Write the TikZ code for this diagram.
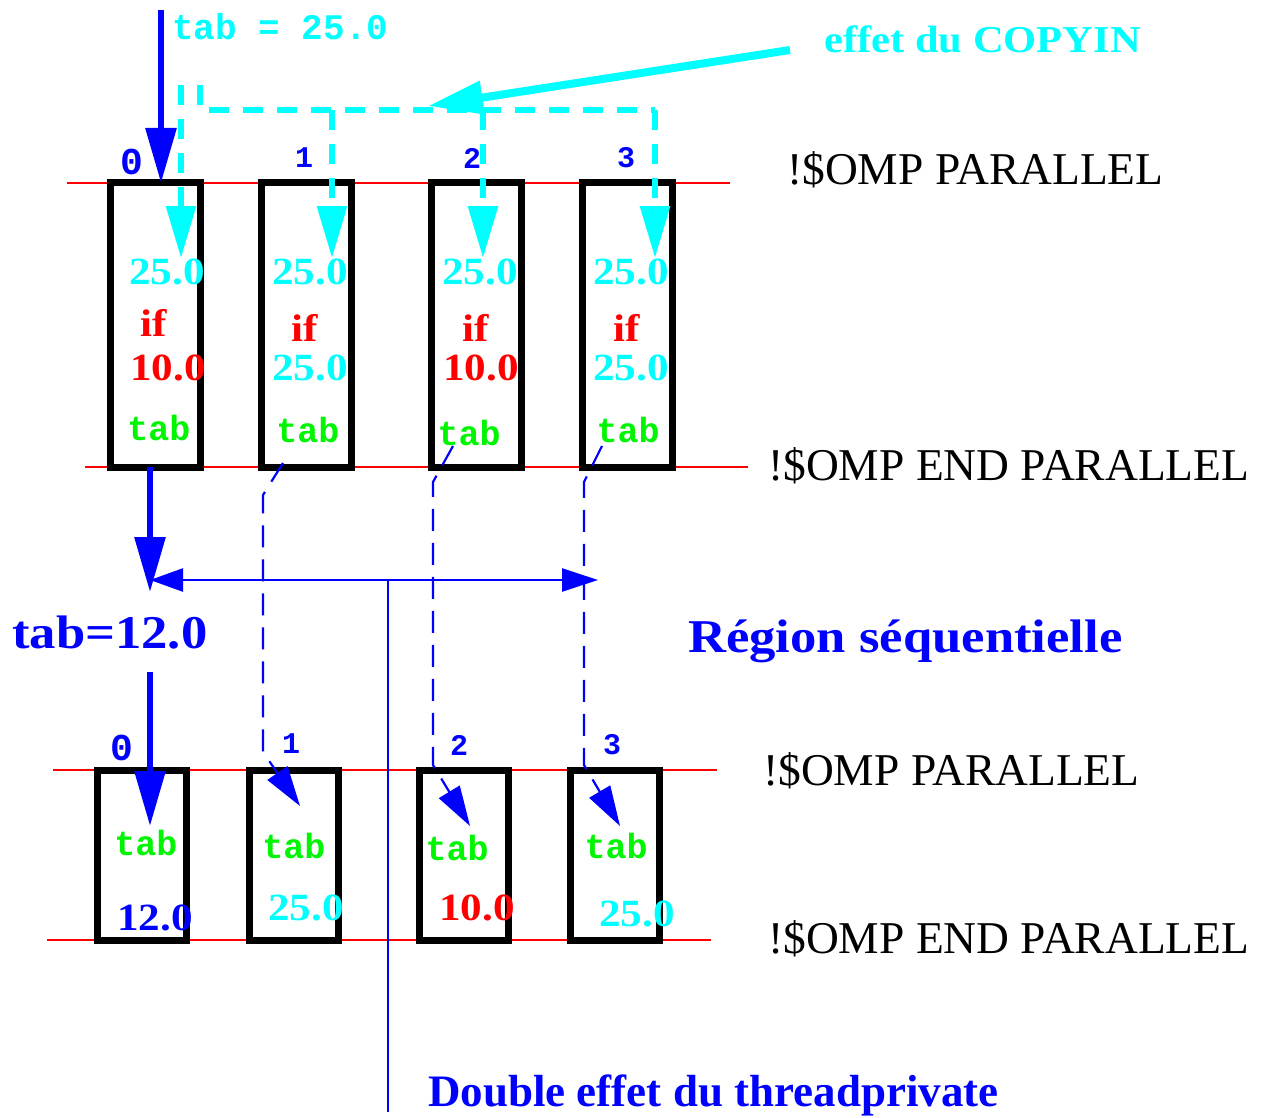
\documentclass[tikz,border=0pt]{standalone}
\usepackage{fontspec}
\setmainfont{Liberation Serif}
\newfontfamily\sbfont[FakeStretch=1.12]{Liberation Serif}
\newfontfamily\monofont{Liberation Mono}
\usetikzlibrary{arrows.meta,calc}
\definecolor{cy}{RGB}{0,255,255}
\definecolor{bl}{RGB}{0,0,255}
\definecolor{gr}{RGB}{0,245,0}
\definecolor{rd}{RGB}{255,0,0}
\begin{document}
\begin{tikzpicture}[x=1pt,y=-1pt,
  topbox/.style={draw=black,line width=7pt,minimum width=90pt,minimum height=284pt,inner sep=0pt,outer sep=0pt},
  botbox/.style={draw=black,line width=7pt,minimum width=89pt,minimum height=170pt,inner sep=0pt,outer sep=0pt},
  val/.style={font=\sbfont\bfseries\fontsize{38.5}{40}\selectfont,inner sep=0pt},
  tabtxt/.style={font=\monofont\bfseries\fontsize{35}{38}\selectfont,text=gr,inner sep=0pt},
  idx/.style={font=\monofont\bfseries\fontsize{30}{34}\selectfont,text=bl,inner sep=0pt},
  idxz/.style={font=\monofont\bfseries\fontsize{38}{40}\selectfont,text=bl,inner sep=0pt},
  omp/.style={font=\fontsize{45.5}{50}\selectfont,inner sep=0pt,anchor=base west},
  redline/.style={draw=rd,line width=2pt},
  bigblue/.style={draw=bl,line width=6pt,-{Triangle[length=55pt,width=30pt]}},
  cydash/.style={draw=cy,line width=6pt,dash pattern=on 20pt off 14pt},
  cytip/.style={-{Triangle[length=52pt,width=29pt]}},
  bldash/.style={draw=bl,line width=2.2pt,dash pattern=on 22pt off 12pt,-{Triangle[length=40pt,width=24pt]}}
]
\useasboundingbox (0,0) rectangle (1268,1118);

% red lines
\draw[redline] (67,183) -- (730,183);
\draw[redline] (85,467) -- (748,467);
\draw[redline] (53,770) -- (717,770);
\draw[redline] (47,940) -- (711,940);

% top boxes
\node[topbox] (t0) at (155.5,325) {};
\node[topbox] (t1) at (306.5,325) {};
\node[topbox] (t2) at (476.5,325) {};
\node[topbox] (t3) at (627.5,325) {};
% bottom boxes
\node[botbox] (b0) at (142,855) {};
\node[botbox] (b1) at (293.5,855) {};
\node[botbox] (b2) at (463.5,855) {};
\node[botbox] (b3) at (615,855) {};

% coordinates
\coordinate (start) at (161,10);
\coordinate (c0top) at (181,85);
\coordinate (c0tip) at (181,258);
\coordinate (cLtop) at (200,85);
\coordinate (cLcorner) at (200,110);
\coordinate (c1top) at (332,110);
\coordinate (c1tip) at (332,258);
\coordinate (c2top) at (483,110);
\coordinate (c2tip) at (483,258);
\coordinate (c3top) at (655,110);
\coordinate (c3tip) at (655,258);
\coordinate (copyfrom) at (790,50);
\coordinate (copytip) at (428,106);
\coordinate (seqtip) at (150,592);
\coordinate (hleft) at (150,580);
\coordinate (hright) at (598,580);
\coordinate (hmid) at (388,580);
\coordinate (vbot) at (388,1112);
\coordinate (mainresume) at (150,672);
\coordinate (b0tip) at (150,826);

% thread labels
\node[idxz] (n0) at (132,162) {0};
\node[idx] (n1) at (304,158) {1};
\node[idx] (n2) at (472,158) {2};
\node[idx] (n3) at (626,158) {3};
\node[idxz] (m0) at (122,748) {0};
\node[idx] (m1) at (291,744) {1};
\node[idx] (m2) at (459,745) {2};
\node[idx] (m3) at (612,745) {3};

% master arrow
\draw[bigblue] (start) -- (t0.north -| start);
\node[font=\monofont\bfseries\fontsize{36}{40}\selectfont,text=cy,inner sep=0pt,anchor=west] (tab25) at (172,27) {tab = 25.0};

% copyin dashed
\draw[cydash,cytip] (c0top) -- (c0tip);
\draw[cydash] (cLtop) -- (cLcorner) -- (c1top -| cLcorner) -- (c3top);
\draw[cydash,cytip] (c3top) -- (c3tip);
\draw[cydash,cytip] (c1top) -- (c1tip);
\draw[cydash,cytip] (c2top) -- (c2tip);
\draw[draw=cy,line width=8pt,-{Triangle[length=55pt,width=32pt]}] (copyfrom) -- (copytip);
\node[font=\sbfont\bfseries\fontsize{38}{40}\selectfont,text=cy,inner sep=0pt,anchor=base west] (copyin) at (824,53) {effet du COPYIN};

% top box contents
\node[val,text=cy] at (167,272) {25.0};
\node[val,text=rd] at (154,323) {if};
\node[val,text=rd] at (168,368) {10.0};
\node[tabtxt] at (159,428) {tab};

\node[val,text=cy] at (310,272) {25.0};
\node[val,text=rd] at (305,328) {if};
\node[val,text=cy] at (310,368) {25.0};
\node[tabtxt] at (308,430) {tab};

\node[val,text=cy] at (480,272) {25.0};
\node[val,text=rd] at (476,328) {if};
\node[val,text=rd] at (481,368) {10.0};
\node[tabtxt] at (469,433) {tab};

\node[val,text=cy] at (631,272) {25.0};
\node[val,text=rd] at (627,328) {if};
\node[val,text=cy] at (631,368) {25.0};
\node[tabtxt] at (628,430) {tab};

% sequential region
\draw[bigblue] (t0.south -| seqtip) -- (seqtip);
\draw[draw=bl,line width=2.5pt,{Triangle[length=33pt,width=23pt]}-{Triangle[length=36pt,width=23pt]}] (hleft) -- (hright);
\draw[draw=bl,line width=2.5pt] (hmid) -- (vbot);
\node[font=\sbfont\bfseries\fontsize{47}{50}\selectfont,text=bl,inner sep=0pt,anchor=base west] (tab12) at (12,648) {tab=12.0};
\node[font=\sbfont\bfseries\fontsize{47}{50}\selectfont,text=bl,inner sep=0pt,anchor=base west] (region) at (688,652) {Région séquentielle};
\draw[bigblue] (mainresume) -- (b0tip);

% threadprivate dashed arrows
\draw[bldash] (283,463) -- (263,495) -- (263,752) -- (300,806);
\draw[bldash] (453,446) -- (433,482) -- (433,765) -- (470,826);
\draw[bldash] (602,446) -- (584,482) -- (584,765) -- (620,826);

% bottom box contents
\node[tabtxt] at (146,843) {tab};
\node[val,text=bl] at (155,918) {12.0};
\node[tabtxt] at (294,846) {tab};
\node[val,text=cy] at (306,908) {25.0};
\node[tabtxt] at (457,848) {tab};
\node[val,text=rd] at (477,908) {10.0};
\node[tabtxt] at (616,846) {tab};
\node[val,text=cy] at (637,914) {25.0};

% right labels
\node[omp] (p1) at (787,185) {!\$OMP PARALLEL};
\node[omp] (e1) at (768,480) {!\$OMP END PARALLEL};
\node[omp] (p2) at (763,785) {!\$OMP PARALLEL};
\node[omp] (e2) at (768,953) {!\$OMP END PARALLEL};

\node[font=\bfseries\fontsize{45}{50}\selectfont,text=bl,inner sep=0pt,anchor=base west] (dbl) at (428,1106) {Double effet du threadprivate};
\end{tikzpicture}
\end{document}
